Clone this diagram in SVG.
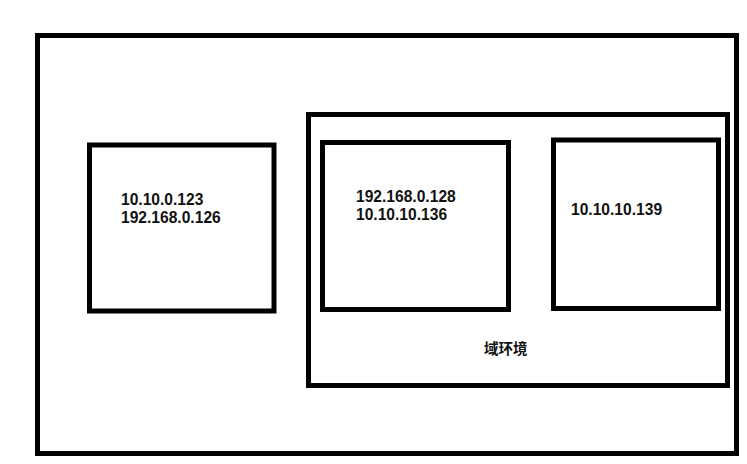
<svg xmlns="http://www.w3.org/2000/svg" width="747" height="464" viewBox="0 0 747 464">
<style>
.box{fill:none;stroke:#000;stroke-width:5}
.t{font-family:"Liberation Sans","Noto Sans",sans-serif;font-weight:bold;font-size:15.6px;fill:#111}
.c{font-family:"Noto Sans CJK SC","Noto Sans",sans-serif;font-weight:bold;font-size:14.5px;fill:#111}
</style>
<rect width="747" height="464" fill="#fff"/>
<g id="outer"><rect class="box" x="37.5" y="35.5" width="699" height="418"/></g>
<g id="domain">
<rect class="box" x="308.5" y="114.5" width="419" height="271"/>
<text class="c" x="484" y="354">域环境</text>
</g>
<g id="host1">
<rect class="box" x="89.5" y="145" width="184.5" height="166"/>
<text class="t" x="121" y="205">10.10.0.123<tspan x="121" dy="18">192.168.0.126</tspan></text>
</g>
<g id="host2">
<rect class="box" x="322.5" y="142.5" width="186" height="167"/>
<text class="t" x="356" y="202">192.168.0.128<tspan x="356" dy="18">10.10.10.136</tspan></text>
</g>
<g id="host3">
<rect class="box" x="553.5" y="140" width="165" height="168.5"/>
<text class="t" x="571" y="215">10.10.10.139</text>
</g>
<g id="connectors"/>
</svg>
